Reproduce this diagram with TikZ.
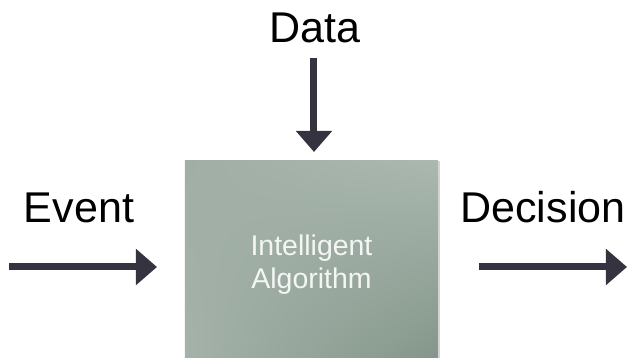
\documentclass[tikz,border=0pt]{standalone}
\usepackage{fontspec}
\setmainfont{Liberation Sans}
\usetikzlibrary{arrows.meta,shadows,shadings}

\definecolor{arrowgray}{HTML}{35333F}
\definecolor{boxul}{HTML}{A0AEA5}
\definecolor{boxur}{HTML}{AAB8AF}
\definecolor{boxll}{HTML}{A4B2A9}
\definecolor{boxlr}{HTML}{84968A}
\definecolor{boxtext}{HTML}{F4F6F4}

\tikzset{
    flowlabel/.style={font=\fontsize{24.5}{29}\selectfont, anchor=base, inner sep=0pt},
    flow/.style={line width=0.14cm, draw=arrowgray, -{Triangle[length=0.42cm, width=0.70cm]}},
}

\begin{document}
\begin{tikzpicture}
    \useasboundingbox (0,0) rectangle (12.6,7.16);

    % Box
    \node[draw=none, minimum width=5.06cm, minimum height=3.94cm, inner sep=0pt,
          upper left=boxul, upper right=boxur, lower left=boxll, lower right=boxlr,
          drop shadow={shadow xshift=0.04cm, shadow yshift=0cm, opacity=0.35}]
          (algo) at (6.23,1.97) {};
    \node[text=boxtext, align=center, inner sep=0pt, font=\fontsize{16.2}{18.8}\selectfont]
          (algotext) at ([yshift=-0.1cm]algo.center) {Intelligent\\Algorithm};

    % Labels
    \node[flowlabel] (data) at (6.30,6.30) {Data};
    \node[flowlabel] (event) at (1.58,2.70) {Event};
    \node[flowlabel] (decision) at (10.86,2.70) {Decision};

    % Arrow ends
    \coordinate (datatop) at (6.28,6.00);
    \coordinate (datatip) at (6.28,4.12);
    \coordinate (eventtail) at (0.18,1.82);
    \coordinate (eventtip) at (3.14,1.82);
    \coordinate (decisiontail) at (9.58,1.82);
    \coordinate (decisiontip) at (12.54,1.82);

    % Arrows
    \draw[flow] (datatop) -- (datatip);
    \draw[flow] (eventtail) -- (eventtip);
    \draw[flow] (decisiontail) -- (decisiontip);
\end{tikzpicture}
\end{document}
